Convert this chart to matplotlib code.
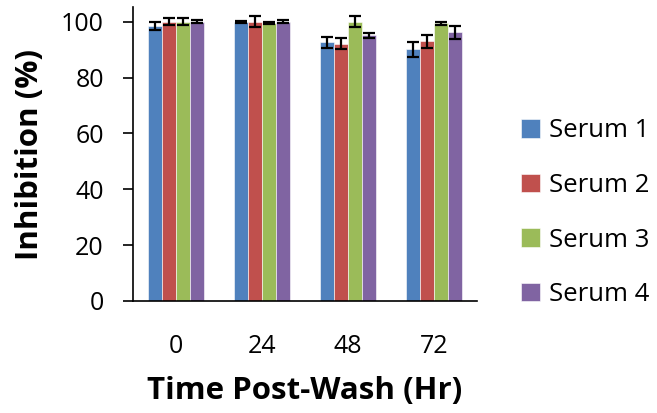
import matplotlib
matplotlib.use("Agg")
import matplotlib.pyplot as plt
import numpy as np

plt.rcParams['font.family'] = ['Open Sans', 'DejaVu Sans']

times = ["0", "24", "48", "72"]
series = ["Serum 1", "Serum 2", "Serum 3", "Serum 4"]
values = {
    "Serum 1": [98.5, 100.0, 92.7, 90.2],
    "Serum 2": [100.0, 100.0, 92.2, 93.0],
    "Serum 3": [100.0, 99.6, 100.0, 99.4],
    "Serum 4": [100.0, 100.0, 95.1, 96.2],
}
errors = {
    "Serum 1": [1.5, 0.4, 2.0, 2.7],
    "Serum 2": [1.2, 1.9, 2.0, 2.3],
    "Serum 3": [1.3, 0.4, 2.0, 0.4],
    "Serum 4": [0.6, 0.5, 0.8, 2.2],
}
colors = ["#4F81BD", "#C0504D", "#9BBB59", "#8064A2"]

fig = plt.figure(figsize=(6.57, 4.13), dpi=100)
ax = fig.add_axes([133/657, 1 - 301/413, (477-133)/657, (301-7)/413])

x = np.arange(len(times))
bw = 0.16
for i, (name, c) in enumerate(zip(series, colors)):
    pos = x + (i - 1.5) * bw
    ax.bar(pos, values[name], width=bw, color=c, edgecolor="white", linewidth=0.4,
           label=name, zorder=2)
    ax.errorbar(pos, values[name], yerr=errors[name], fmt="none", ecolor="black",
                elinewidth=1.6, capsize=4.3, capthick=1.6, zorder=3)

ax.set_xlim(-0.5, len(times) - 0.5)
ax.set_ylim(0, 105.3)
ax.set_yticks(np.arange(0, 101, 20))
ax.set_xticks(x)
ax.set_xticklabels(times)
ax.tick_params(axis="y", direction="out", length=7, width=1.2, labelsize=18, pad=14)
ax.tick_params(axis="x", length=0, labelsize=18, pad=24)
for s in ["top", "right"]:
    ax.spines[s].set_visible(False)
ax.spines["left"].set_linewidth(1.2)
ax.spines["bottom"].set_linewidth(1.2)

ax.set_xlabel("Time Post-Wash (Hr)", fontsize=22.5, fontweight="bold")
ax.set_ylabel("Inhibition (%)", fontsize=22.5, fontweight="bold")
ax.xaxis.set_label_coords(0.5, -0.255)
ax.yaxis.set_label_coords(-0.256, 0.5)

leg = ax.legend(loc="center left", bbox_to_anchor=(1.128, 0.30), frameon=False,
                fontsize=18.5, handlelength=0.72, handleheight=0.72,
                handletextpad=0.36, labelspacing=1.15,
                borderaxespad=0, borderpad=0)

fig.savefig("out.png", dpi=100)
